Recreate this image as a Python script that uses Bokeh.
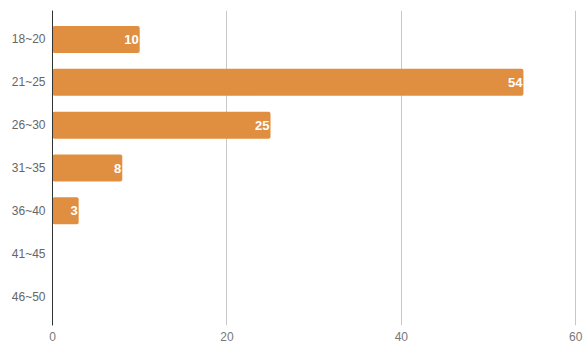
from bokeh.plotting import figure
from bokeh.models import ColumnDataSource, FactorRange, Range1d, FixedTicker
from bokeh.core.properties import value
from bokeh.embed import file_html
from bokeh.resources import INLINE

categories = ["18~20", "21~25", "26~30", "31~35", "36~40", "41~45", "46~50"]
counts = [10, 54, 25, 8, 3, 0, 0]
x_ticks = [0, 20, 40, 60]

labels = [str(c) if c > 0 else "" for c in counts]
src = ColumnDataSource(dict(cat=categories, count=counts, label=labels))
grid_src = ColumnDataSource(dict(x=x_ticks[1:]))

p = figure(width=588, height=352, output_backend="svg", toolbar_location=None,
           y_range=FactorRange(factors=list(reversed(categories)), range_padding=0.05),
           x_range=Range1d(0, 60.2),
           min_border_left=52, min_border_right=11, min_border_top=10, min_border_bottom=27)
p.outline_line_color = None
p.background_fill_color = "white"
p.border_fill_color = "white"

# vertical grid lines drawn as rays from the tick positions
p.vspan(x="x", source=grid_src, line_color="#c8c8c8", line_width=1)

p.hbar(y="cat", right="count", left=0, height=0.63, source=src,
       fill_color="#E08F41", line_color=None, border_radius=2)
p.text(x="count", y="cat", text="label", source=src, x_offset=-1,
       text_align="right", text_baseline="middle", text_color="white",
       text_font=value("Liberation Sans"), text_font_style="bold", text_font_size="13px")

p.xaxis.ticker = FixedTicker(ticks=x_ticks)
p.xaxis.axis_line_color = None
p.xaxis.major_tick_line_color = None
p.xaxis.minor_tick_line_color = None
p.xaxis.major_tick_out = 0
p.xaxis.minor_tick_out = 0
p.xaxis.major_label_text_color = "#777777"
p.xaxis.major_label_text_font = "Liberation Sans"
p.xaxis.major_label_text_font_size = "12px"
p.xaxis.major_label_standoff = 6

p.yaxis.axis_line_color = "#333333"
p.yaxis.axis_line_width = 1
p.yaxis.major_tick_line_color = None
p.yaxis.minor_tick_line_color = None
p.yaxis.major_tick_out = 0
p.yaxis.minor_tick_out = 0
p.yaxis.major_label_text_color = "#666666"
p.yaxis.major_label_text_font = "Liberation Sans"
p.yaxis.major_label_text_font_size = "12px"
p.yaxis.major_label_standoff = 7

p.ygrid.grid_line_color = None
p.xgrid.grid_line_color = None

open("out.html", "w").write(file_html(p, INLINE))
